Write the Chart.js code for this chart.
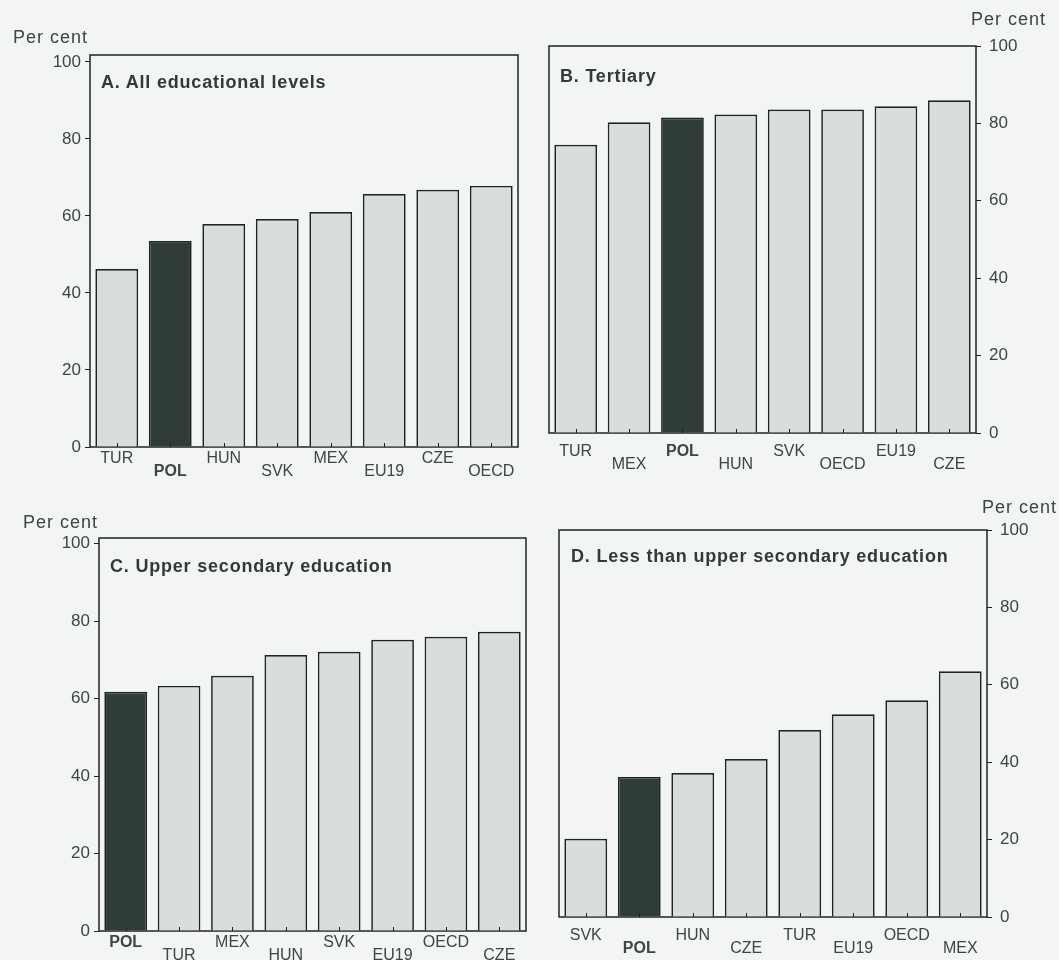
<!DOCTYPE html>
<html>
<head>
<meta charset="utf-8">
<script src="https://cdn.jsdelivr.net/npm/chart.js@4"></script>
<style>
  body { margin: 0; background: #f3f5f5; }
  #page { position: relative; width: 1059px; height: 960px; overflow: hidden; font-family: "Liberation Sans", Arial, sans-serif; color: #3b4645; }
  .panel { position: absolute; }
  .txt { position: absolute; white-space: nowrap; }
  .unit { font-size: 18px; letter-spacing: 1px; }
  .ttl { font-size: 18px; font-weight: bold; letter-spacing: 0.8px; color: #2f3b3a; }
</style>
</head>
<body>
<div id="page">
  <div class="panel" id="pA" style="left:0;top:0;width:530px;height:500px"><canvas id="cA"></canvas></div>
  <div class="panel" id="pB" style="left:530px;top:0;width:529px;height:500px"><canvas id="cB"></canvas></div>
  <div class="panel" id="pC" style="left:0;top:490px;width:530px;height:480px"><canvas id="cC"></canvas></div>
  <div class="panel" id="pD" style="left:530px;top:490px;width:529px;height:480px"><canvas id="cD"></canvas></div>

  <div class="txt unit" style="left:13px;top:27px">Per cent</div>
  <div class="txt unit" style="left:971px;top:9px">Per cent</div>
  <div class="txt unit" style="left:23px;top:512px">Per cent</div>
  <div class="txt unit" style="left:982px;top:497px">Per cent</div>

  <div class="txt ttl" style="left:101px;top:72px">A. All educational levels</div>
  <div class="txt ttl" style="left:560px;top:66px">B. Tertiary</div>
  <div class="txt ttl" style="left:110px;top:556px">C. Upper secondary education</div>
  <div class="txt ttl" style="left:571px;top:546px">D. Less than upper secondary education</div>
</div>

<script>
// ── 資料 ──────────────────────────────────────────────
const yTicks = [0, 20, 40, 60, 80, 100];

const catsA = ['TUR', 'POL', 'HUN', 'SVK', 'MEX', 'EU19', 'CZE', 'OECD'];
const valsA = [46.2, 53.5, 57.9, 59.2, 61.0, 65.7, 66.8, 67.8];

const catsB = ['TUR', 'MEX', 'POL', 'HUN', 'SVK', 'OECD', 'EU19', 'CZE'];
const valsB = [74.5, 80.3, 81.5, 82.3, 83.6, 83.6, 84.4, 86.0];

const catsC = ['POL', 'TUR', 'MEX', 'HUN', 'SVK', 'EU19', 'OECD', 'CZE'];
const valsC = [61.8, 63.3, 65.9, 71.3, 72.1, 75.2, 76.0, 77.3];

const catsD = ['SVK', 'POL', 'HUN', 'CZE', 'TUR', 'EU19', 'OECD', 'MEX'];
const valsD = [20.2, 36.2, 37.2, 40.8, 48.3, 52.4, 56.0, 63.5];

const HIGHLIGHT = 'POL';

// ── 樣式 ──────────────────────────────────────────────
const FONT = '"Liberation Sans", Arial, sans-serif';
const TEXT = '#3b4645';
const BAR = '#d9dddd';
const BAR_HL = '#2f3c3a';
const LINE = '#1e2423';
const AXIS_W = 60, AXIS_H = 50;

// 外框 + x 軸小刻度（朝內）
const framePlugin = {
  id: 'frame',
  beforeDatasetsDraw(chart) {
    const a = chart.chartArea, ctx = chart.ctx;
    ctx.save();
    ctx.strokeStyle = LINE;
    ctx.lineWidth = 1.5;
    ctx.strokeRect(a.left, a.top, a.right - a.left, a.bottom - a.top);
    ctx.restore();
  },
  afterDatasetsDraw(chart) {
    const a = chart.chartArea, ctx = chart.ctx, x = chart.scales.x;
    ctx.save();
    ctx.strokeStyle = LINE;
    ctx.lineWidth = 1;
    x.ticks.forEach((t, i) => {
      const px = Math.round(x.getPixelForTick(i)) + 0.5;
      ctx.beginPath();
      ctx.moveTo(px, a.bottom);
      ctx.lineTo(px, a.bottom - 4);
      ctx.stroke();
    });
    ctx.restore();
  }
};

// area: 圖區在頁面上的位置；panel: 容器位置
function makeChart(id, panel, area, side, cats, vals, yMax, labPad) {
  const padding = {
    top: area.t - panel.y,
    bottom: panel.y + panel.h - area.b - AXIS_H,
    left: side === 'left' ? area.l - panel.x - AXIS_W : area.l - panel.x,
    right: side === 'left' ? panel.x + panel.w - area.r : panel.x + panel.w - area.r - AXIS_W,
  };
  // 交錯標籤
  const labels = cats.map((c, i) => i % 2 === 0 ? [c, ''] : ['', c]);

  return new Chart(document.getElementById(id), {
    type: 'bar',
    data: {
      labels,
      datasets: [{
        data: vals,
        backgroundColor: cats.map(c => c === HIGHLIGHT ? BAR_HL : BAR),
        borderColor: LINE,
        borderWidth: 1.7,
        borderSkipped: 'bottom',
        categoryPercentage: 1,
        barPercentage: 0.8,
      }]
    },
    options: {
      responsive: true,
      maintainAspectRatio: false,
      animation: false,
      layout: { padding },
      plugins: { legend: { display: false }, tooltip: { enabled: false } },
      scales: {
        x: {
          grid: { display: false },
          border: { display: false },
          afterFit: s => { s.height = AXIS_H; },
          ticks: {
            padding: labPad,
            maxRotation: 0,
            autoSkip: false,
            color: TEXT,
            font: ctx => ({
              family: FONT,
              size: 16,
              lineHeight: '13px',
              weight: cats[ctx.index] === HIGHLIGHT ? 'bold' : 'normal'
            })
          }
        },
        y: {
          position: side,
          min: 0,
          max: yMax,
          afterFit: s => { s.width = AXIS_W; },
          afterBuildTicks: s => { s.ticks = yTicks.map(v => ({ value: v })); },
          grid: { drawOnChartArea: false, drawTicks: true, tickLength: 5, color: LINE, lineWidth: 1 },
          border: { display: false },
          ticks: {
            padding: side === 'left' ? 4 : 8,
            color: TEXT,
            font: { family: FONT, size: 17 }
          }
        }
      }
    },
    plugins: [framePlugin]
  });
}

makeChart('cA', { x: 0, y: 0, w: 530, h: 500 },   { l: 90,  r: 518, t: 55,  b: 447 }, 'left',  catsA, valsA, 101.8, -3);
makeChart('cB', { x: 530, y: 0, w: 529, h: 500 }, { l: 549, r: 976, t: 46,  b: 433 }, 'right', catsB, valsB, 100,   4);
makeChart('cC', { x: 0, y: 490, w: 530, h: 480 }, { l: 99,  r: 526, t: 538, b: 931 }, 'left',  catsC, valsC, 101.5, -3);
makeChart('cD', { x: 530, y: 490, w: 529, h: 480 }, { l: 559, r: 987, t: 530, b: 917 }, 'right', catsD, valsD, 100, 4);
</script>
</body>
</html>
